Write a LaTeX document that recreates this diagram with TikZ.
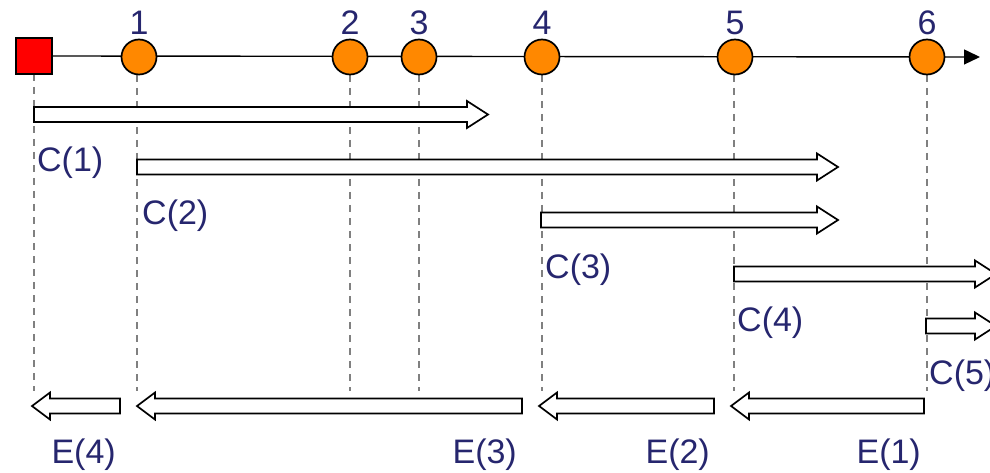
\documentclass[tikz,border=0pt]{standalone}
\usepackage{fontspec}
\setmainfont{Liberation Sans}
\usetikzlibrary{arrows.meta}
\definecolor{txt}{RGB}{38,38,110}
\definecolor{evorange}{RGB}{255,136,0}
\tikzset{
  lbl/.style={text=txt, font=\fontsize{34}{39}\selectfont, inner sep=0pt},
  evt/.style={circle, draw=black, line width=1.7pt, fill=evorange, minimum size=35pt, inner sep=0pt},
  startbox/.style={draw=black, line width=1.7pt, fill=red, minimum size=36pt, inner sep=0pt},
  guide/.style={draw=gray, line width=1.5pt, dash pattern=on 7pt off 6pt},
  blk/.style={draw=black, line width=1.7pt, fill=white, line join=miter},
}
% right block arrow: start x, tip x, centre y
\newcommand{\rblk}[3]{\draw[blk] (#1,#3-7.5) -- (#2-21,#3-7.5) -- (#2-21,#3-13.5) -- (#2,#3) -- (#2-21,#3+13.5) -- (#2-21,#3+7.5) -- (#1,#3+7.5) -- cycle;}
% left block arrow: tail x, tip x, centre y
\newcommand{\lblk}[3]{\draw[blk] (#1,#3-7.5) -- (#2+18,#3-7.5) -- (#2+18,#3-13.5) -- (#2,#3) -- (#2+18,#3+13.5) -- (#2+18,#3+7.5) -- (#1,#3+7.5) -- cycle;}
\begin{document}
\begin{tikzpicture}[x=1pt,y=-1pt]
\useasboundingbox (0,0) rectangle (990,473);
% guides
\foreach \gx/\gy in {34/74, 137/75, 350/75, 419/75, 542/75, 734/75, 927/75}
  \draw[guide] (\gx,\gy) -- (\gx,391);
% timeline
\node[startbox] (s) at (34,56) {};
\coordinate (tend) at (980,57);
\draw[line width=1.4pt, -{Triangle[length=16pt,width=15pt]}] (s.east) -- (tend);
\foreach \n/\x in {1/139, 2/350, 3/419, 4/542, 5/735, 6/927} {
  \node[evt] (e\n) at (\x,57) {};
  \node[lbl, anchor=base] (n\n) at (\x,35) {\n};
}
% C arrows
\rblk{34}{488}{114.5}
\rblk{137}{838}{167}
\rblk{541}{838}{220}
\rblk{734}{996}{274}
\rblk{926}{996}{326}
\node[lbl, anchor=base west] (c1) at (37,172) {C(1)};
\node[lbl, anchor=base west] (c2) at (142,225) {C(2)};
\node[lbl, anchor=base west] (c3) at (545,278) {C(3)};
\node[lbl, anchor=base west] (c4) at (737,331) {C(4)};
\node[lbl, anchor=base west] (c5) at (929,384) {C(5)};
% E arrows
\lblk{120}{32}{406}
\lblk{522}{137}{406}
\lblk{714}{539}{406}
\lblk{924}{731}{406}
\node[lbl, anchor=base east] (x4) at (116,463) {E(4)};
\node[lbl, anchor=base east] (x3) at (517,463) {E(3)};
\node[lbl, anchor=base east] (x2) at (710,463) {E(2)};
\node[lbl, anchor=base east] (x1) at (921,463) {E(1)};
\end{tikzpicture}
\end{document}
